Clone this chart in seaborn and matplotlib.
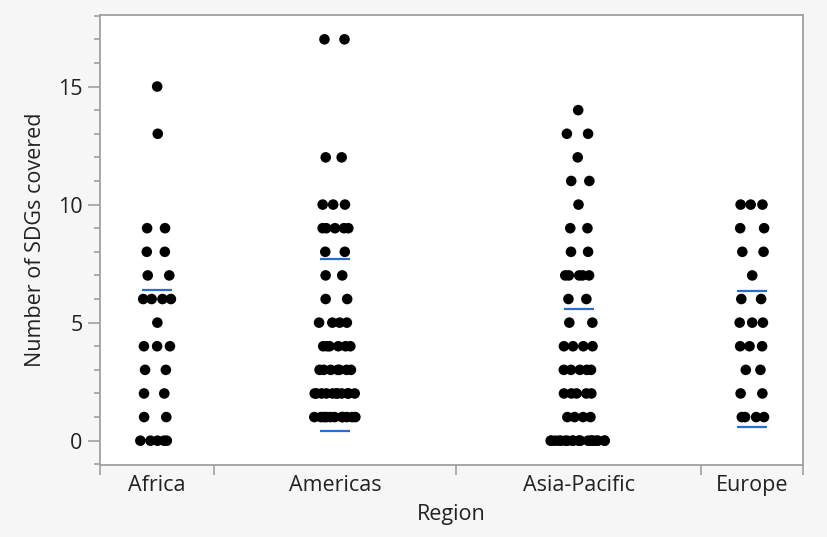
import numpy as np
import pandas as pd
import matplotlib.pyplot as plt
from matplotlib.ticker import MultipleLocator
import seaborn as sns

regions = ["Africa", "Americas", "Asia-Pacific", "Europe"]

# number of SDGs covered -> how many entries sit at that value
africa_sdgs = [15, 13, 9, 8, 7, 6, 5, 4, 3, 2, 1, 0]
africa_n = [1, 1, 2, 2, 2, 4, 1, 3, 2, 2, 2, 5]

americas_sdgs = [17, 12, 10, 9, 8, 7, 6, 5, 4, 3, 2, 1]
americas_n = [2, 2, 3, 5, 2, 2, 2, 4, 6, 7, 11, 11]

asia_sdgs = [14, 13, 12, 11, 10, 9, 8, 7, 6, 5, 4, 3, 2, 1, 0]
asia_n = [1, 2, 1, 2, 1, 2, 2, 5, 2, 2, 4, 5, 5, 4, 20]

europe_sdgs = [10, 9, 8, 7, 6, 5, 4, 3, 2, 1]
europe_n = [3, 2, 2, 1, 2, 3, 3, 2, 2, 4]

# blue lines drawn by JMP for each region
upper_line = [6.4, 7.7, 5.56, 6.36]
lower_line = [0.05, 0.42, 0.0, 0.56]

groups = [(africa_sdgs, africa_n), (americas_sdgs, americas_n),
          (asia_sdgs, asia_n), (europe_sdgs, europe_n)]

# x axis: each region gets a width proportional to its sample size
sizes = [sum(n) for _, n in groups]
edges = np.concatenate([[0], np.cumsum(sizes)])
centers = (edges[:-1] + edges[1:]) / 2

# jitter like JMP: wider where more points share a value
rng = np.random.default_rng(7)
rows = []
for reg, c, (vals, counts) in zip(regions, centers, groups):
    for v, n in zip(vals, counts):
        half = 1.65 * n ** 0.45 if n > 1 else 0
        dx = np.linspace(-half, half, n) + rng.normal(0, 0.45, n)
        for d in dx:
            rows.append({"Region": reg, "x": c + d, "SDGs": v})
df = pd.DataFrame(rows)

sns.set_style("ticks")
plt.rcParams["font.family"] = ["Open Sans", "DejaVu Sans"]

fig = plt.figure(figsize=(8.27, 5.37), dpi=100, facecolor="#f6f6f6")
ax = fig.add_axes([100 / 827, 72 / 537, 703 / 827, 450 / 537])
ax.set_facecolor("white")

for c, up, lo in zip(centers, upper_line, lower_line):
    ax.hlines([up, lo], c - 3.55, c + 3.55, color="#2b6bd6", lw=1.6, zorder=1)

sns.scatterplot(data=df, x="x", y="SDGs", color="black", s=58,
                edgecolor="none", ax=ax, zorder=3, legend=False)

ax.set_xlim(edges[0], edges[-1])
ax.set_ylim(-1.03, 18.03)
ax.set_xticks(edges)
ax.set_xticklabels([])
ax.set_xticks(centers, minor=True)
ax.set_xticklabels(regions, minor=True)
ax.tick_params(axis="x", which="major", length=7, width=1.2, color="#a0a0a0")
ax.tick_params(axis="x", which="minor", length=0, pad=7, labelsize=15.5,
               labelcolor="#222222")

ax.set_yticks([0, 5, 10, 15])
ax.yaxis.set_minor_locator(MultipleLocator(1))
ax.tick_params(axis="y", which="major", length=8.5, width=1.2, color="#a0a0a0",
               labelsize=15.5, labelcolor="#222222", pad=4)
ax.tick_params(axis="y", which="minor", length=4.3, width=1.2, color="#a0a0a0")

for sp in ax.spines.values():
    sp.set_color("#a0a0a0")
    sp.set_linewidth(1.3)

ax.set_xlabel("Region", fontsize=15.5, color="#222222", labelpad=6)
ax.set_ylabel("Number of SDGs covered", fontsize=15.5, color="#222222", labelpad=9)

fig.savefig("out.png", dpi=100, facecolor=fig.get_facecolor())
